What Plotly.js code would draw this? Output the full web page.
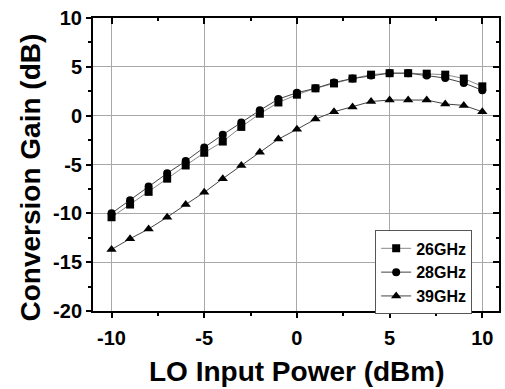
<!DOCTYPE html>
<html>
<head>
<meta charset="utf-8">
<script src="https://cdn.plot.ly/plotly-3.0.1.min.js"></script>
<style>html,body{margin:0;padding:0;background:#fff;}#chart{width:505px;height:389px;}</style>
</head>
<body>
<div id="chart"></div>
<script>
const loPower = [-10,-9,-8,-7,-6,-5,-4,-3,-2,-1,0,1,2,3,4,5,6,7,8,9,10];
const gain26 = [-10.4,-9.1,-7.8,-6.45,-5.1,-3.8,-2.65,-1.15,0.2,1.35,2.15,2.8,3.3,3.8,4.2,4.35,4.35,4.3,4.2,3.8,3.0];
const gain28 = [-10.0,-8.65,-7.25,-5.9,-4.65,-3.25,-1.95,-0.7,0.55,1.7,2.35,2.8,3.4,3.8,4.1,4.35,4.35,4.1,3.85,3.35,2.6];
const gain39 = [-13.7,-12.6,-11.6,-10.4,-9.1,-7.85,-6.45,-5.1,-3.75,-2.4,-1.4,-0.35,0.4,0.9,1.45,1.6,1.6,1.6,1.2,1.05,0.4];
const seriesNames = ['26GHz','28GHz','39GHz'];
const xTicks = [-10,-5,0,5,10];
const yTicks = [-20,-15,-10,-5,0,5,10];
const xTitle = 'LO Input Power (dBm)';
const yTitle = 'Conversion Gain (dB)';

const fontFam = 'Liberation Sans, Arial, sans-serif';
const traces = [
  {x: loPower, y: gain26, name: seriesNames[0], mode: 'lines+markers',
   line: {color: '#8a8a8a', width: 1}, marker: {symbol: 'square', size: 8, color: '#000'}},
  {x: loPower, y: gain28, name: seriesNames[1], mode: 'lines+markers',
   line: {color: '#444', width: 1}, marker: {symbol: 'circle', size: 8, color: '#000'}},
  {x: loPower, y: gain39, name: seriesNames[2], mode: 'lines+markers',
   line: {color: '#444', width: 1}, marker: {symbol: 'triangle-up', size: 9, color: '#000'}},
  {x: [null], y: [null], xaxis: 'x2', yaxis: 'y2', showlegend: false, hoverinfo: 'skip', mode: 'markers'}
];

const tickFont = {family: fontFam, size: 20, color: '#000', weight: 'bold'};
const titleFont = {family: fontFam, size: 28, color: '#000', weight: 'bold'};

const layout = {
  width: 505, height: 389,
  margin: {l: 93, r: 6, t: 18, b: 78},
  paper_bgcolor: '#fff', plot_bgcolor: '#fff',
  showlegend: true,
  legend: {x: 0.695, y: 0.275, xanchor: 'left', yanchor: 'top',
    bgcolor: '#fff', bordercolor: '#555', borderwidth: 1,
    font: {family: fontFam, size: 16, color: '#000', weight: 'bold'},
    tracegroupgap: 0, itemwidth: 30},
  annotations: [
    {text: xTitle, xref: 'paper', yref: 'paper', x: 0.5, y: 0, xanchor: 'center', yanchor: 'middle',
     yshift: -60, xshift: 1, showarrow: false, font: titleFont},
    {text: yTitle, xref: 'paper', yref: 'paper', x: 0, y: 0.5, xanchor: 'center', yanchor: 'middle',
     xshift: -63, yshift: -13, textangle: -90, showarrow: false, font: titleFont}
  ],
  xaxis: {range: [-11, 10.9], tickvals: xTicks, ticktext: xTicks.map(String),
    ticks: 'outside', ticklen: 5, tickwidth: 2, tickcolor: '#000', ticklabelstandoff: 3,
    showline: true, linewidth: 2, linecolor: '#000', zeroline: false,
    showgrid: true, gridcolor: '#a8a8a8', gridwidth: 1,
    minor: {dtick: 2.5, tick0: 0, ticks: 'outside', ticklen: 3, tickwidth: 2, tickcolor: '#000', showgrid: false},
    tickfont: tickFont},
  yaxis: {range: [-20, 10], tickvals: yTicks, ticktext: yTicks.map(String),
    ticks: 'outside', ticklen: 5, tickwidth: 2, tickcolor: '#000',
    showline: true, linewidth: 2, linecolor: '#000', zeroline: false,
    showgrid: true, gridcolor: '#a8a8a8', gridwidth: 1,
    minor: {dtick: 2.5, tick0: 0, ticks: 'outside', ticklen: 3, tickwidth: 2, tickcolor: '#000', showgrid: false},
    tickfont: tickFont},
  xaxis2: {range: [-11, 10.9], overlaying: 'x', side: 'top', anchor: 'y2',
    tickvals: xTicks, ticks: 'inside', ticklen: 6, tickwidth: 2, tickcolor: '#000',
    showticklabels: false, showline: true, linewidth: 2, linecolor: '#000',
    showgrid: false, zeroline: false,
    minor: {dtick: 2.5, tick0: 0, ticks: 'inside', ticklen: 3, tickwidth: 2, tickcolor: '#000', showgrid: false}},
  yaxis2: {range: [-20, 10], overlaying: 'y', side: 'right', anchor: 'x2',
    tickvals: yTicks, ticks: 'inside', ticklen: 6, tickwidth: 2, tickcolor: '#000',
    showticklabels: false, showline: true, linewidth: 2, linecolor: '#000',
    showgrid: false, zeroline: false,
    minor: {dtick: 2.5, tick0: 0, ticks: 'inside', ticklen: 3, tickwidth: 2, tickcolor: '#000', showgrid: false}}
};

Plotly.newPlot('chart', traces, layout, {displayModeBar: false, staticPlot: true});
</script>
</body>
</html>
